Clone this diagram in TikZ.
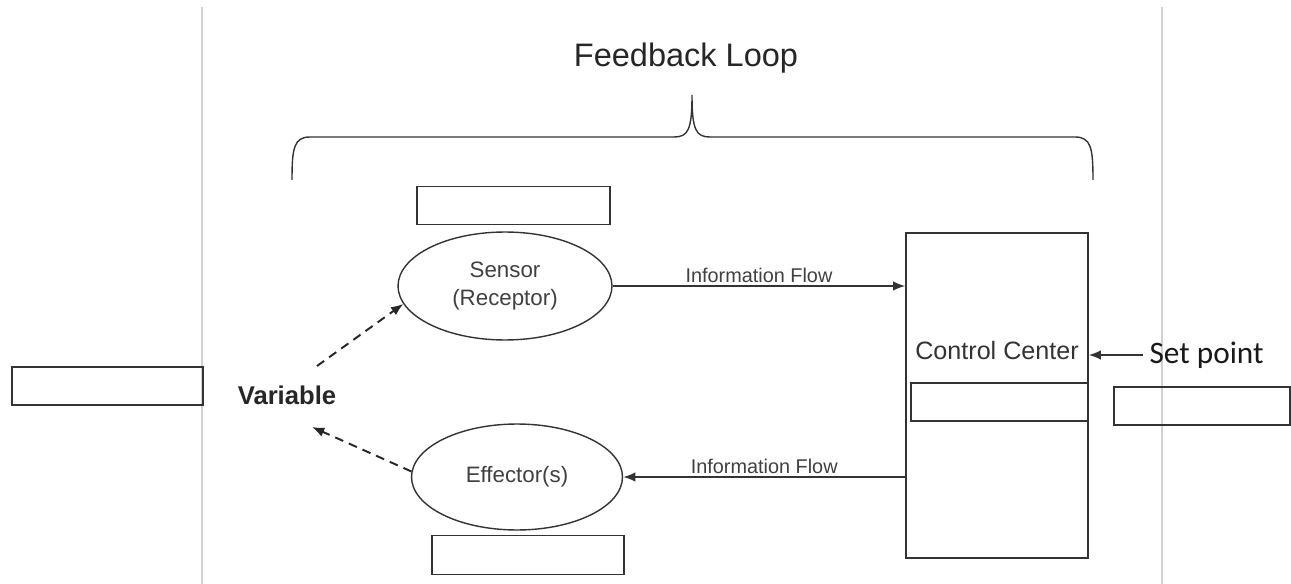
\documentclass[tikz,border=0pt]{standalone}
\usepackage{fontspec}
\setmainfont{Liberation Sans}
\newfontfamily\calibrifont{Carlito}
\usepackage{tikz}
\usetikzlibrary{shapes,arrows,arrows.meta}
\usetikzlibrary{positioning}
\definecolor{linegray}{gray}{0.2}
\definecolor{rulegray}{gray}{0.82}
\tikzset{
  blank/.style={draw=linegray, thick, minimum width=3.84cm, minimum height=0.76cm, inner sep=0pt},
  organ/.style={ellipse, draw=linegray, thick, inner sep=0pt, align=center, text=black!75, font=\fontsize{12.7}{16.4}\selectfont},
  flow/.style={font=\fontsize{11.3}{13}\selectfont, text=black!75, inner sep=1.5pt},
  guess/.style={line width=1.1pt, black!85, dash pattern=on 5pt off 3.5pt}
}
\begin{document}
\begin{tikzpicture}[x=0.02cm,y=-0.02cm,node distance=0.1cm,>={Latex[length=7pt,width=5.5pt]},thick,linegray]
\path[use as bounding box] (0,0) rectangle (1291,584);
\draw[rulegray,line width=1pt] (202,7) -- (202,584);
\draw[rulegray,line width=1pt] (1162,7) -- (1162,584);
\path node[font=\fontsize{18.5}{22}\selectfont,text=black!85] (title) at (686,58) {Feedback Loop};
% the brace
\draw (292,180) .. controls (292,148) and (294,137) .. (310,137) -- (674,137) .. controls (688,137) and (692,130) .. (692,95) .. controls (692,130) and (696,137) .. (710,137) -- (1075,137) .. controls (1091,137) and (1093,148) .. (1093,180);
\path node[organ, minimum width=4.28cm, minimum height=2.16cm] (sensor) at (505,286) {Sensor\\(Receptor)};
\path node[blank, minimum width=3.86cm, above=0.12cm of sensor, xshift=0.17cm] (sensbox) {};
\path node[organ, minimum width=4.22cm, minimum height=2.12cm] (effector) at (517,477) {Effector(s)};
\path node[blank, minimum height=0.78cm, below=0.08cm of effector, xshift=0.22cm] (effbox) {};
\path node[draw, minimum width=3.64cm, minimum height=6.5cm] (control) at (997,395.5) {};
\path node[font=\fontsize{14.3}{17}\selectfont, text=black!80] (cclabel) at (997,351) {Control Center};
\path node[blank, minimum width=3.54cm] (ccbox) at (999.5,402) {};
\path node[blank, minimum width=3.82cm] (leftbox) at (107.5,386) {};
\path node[blank, minimum width=3.52cm] (rightbox) at (1202,406) {};
\path node[font=\bfseries\fontsize{14.6}{17}\selectfont, text=black!85] (variable) at (287,395) {Variable};
\path node[font=\calibrifont\fontsize{17.8}{21}\selectfont, text=black!90, anchor=west] (setpt) at (1143,355) {Set point};
\path[->,line width=1pt] (sensor.east) edge node[flow, above] {Information Flow} (control.west |- sensor.east);
\path[->,line width=1pt] (control.west |- effector.east) edge node[flow, above] {Information Flow} (effector.east);
\path[->,line width=1pt] (setpt.west) edge (control.east |- setpt.west);
\coordinate (vup) at (317,366);
\coordinate (vdown) at (312,427);
\path[->,guess] (vup) edge (sensor.190);
\path[->,guess] (effector.177) edge (vdown);
\end{tikzpicture}
\end{document}
